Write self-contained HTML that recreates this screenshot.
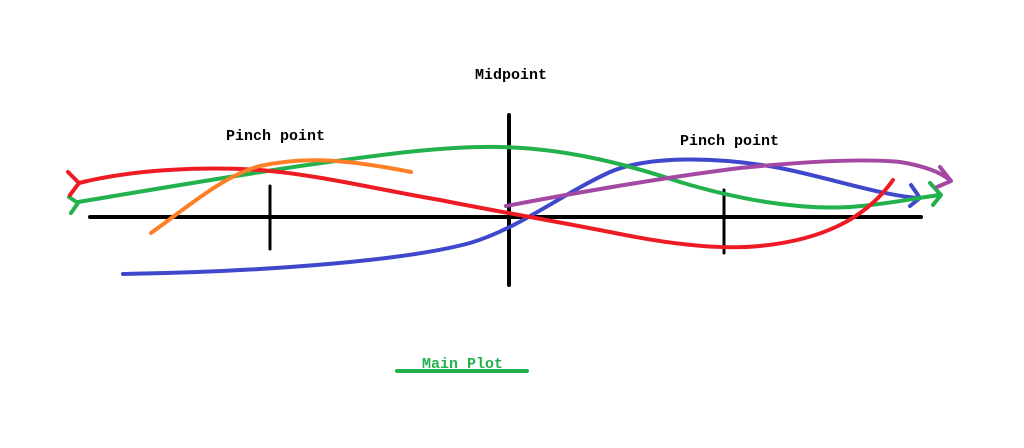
<!DOCTYPE html>
<html><head><meta charset="utf-8"><style>
html,body{margin:0;padding:0;background:#fff;}
svg{display:block}
text{font-family:"Liberation Mono","DejaVu Sans Mono",monospace;font-weight:bold;font-size:15px}
</style></head><body>
<svg width="1024" height="448" viewBox="0 0 1024 448" xmlns="http://www.w3.org/2000/svg">
<g fill="none" stroke-linecap="round" stroke-linejoin="round">
<!-- axes -->
<line x1="90" y1="217" x2="921" y2="217" stroke="#000" stroke-width="4"/>
<line x1="509" y1="115" x2="509" y2="285" stroke="#000" stroke-width="4"/>
<line x1="270" y1="186" x2="270" y2="249" stroke="#000" stroke-width="3"/>
<line x1="724" y1="190" x2="724" y2="253" stroke="#000" stroke-width="3"/>
<!-- blue -->
<path d="M123,274 C250,272 400,262 470,243 C520,228 560,195 610,172 C650,155 720,157 780,168 C830,178 880,195 918,198" stroke="#3f48cc" stroke-width="4"/>
<path d="M911,185 L920,198 L910,206" stroke="#3f48cc" stroke-width="4"/>
<!-- green -->
<path d="M78,202 C150,190 220,178 300,166 C380,155 440,146 500,147 C560,148 620,162 680,182 C740,200 800,210 850,207 C890,204 915,198 940,195" stroke="#22b14c" stroke-width="4"/>
<path d="M69,197 L78,203 L71,213" stroke="#22b14c" stroke-width="4"/>
<path d="M930,183 L941,195 L933,205" stroke="#22b14c" stroke-width="4"/>
<!-- red -->
<path d="M79,183 C130,170 200,166 260,170 C320,175 380,190 440,200 C500,212 560,222 620,234 C670,244 720,250 760,246 C820,240 865,220 893,180" stroke="#ed1c24" stroke-width="4"/>
<path d="M68,172 L79,183 L70,195" stroke="#ed1c24" stroke-width="4"/>
<!-- orange -->
<path d="M151,233 C190,205 225,175 260,166 C300,157 340,158 411,172" stroke="#ff7f27" stroke-width="4"/>
<!-- purple -->
<path d="M506,206 C580,192 660,178 740,168 C800,162 860,158 900,162 C925,166 940,172 950,180" stroke="#a349a4" stroke-width="4"/>
<path d="M940,167 L951,181 L937,187" stroke="#a349a4" stroke-width="4"/>
<!-- underline -->
<line x1="397" y1="371" x2="527" y2="371" stroke="#22b14c" stroke-width="4"/>
</g>
<text x="475" y="79" fill="#000">Midpoint</text>
<text x="226" y="140" fill="#000">Pinch point</text>
<text x="680" y="145" fill="#000">Pinch point</text>
<text x="422" y="368" fill="#22b14c">Main Plot</text>
</svg>
</body></html>
